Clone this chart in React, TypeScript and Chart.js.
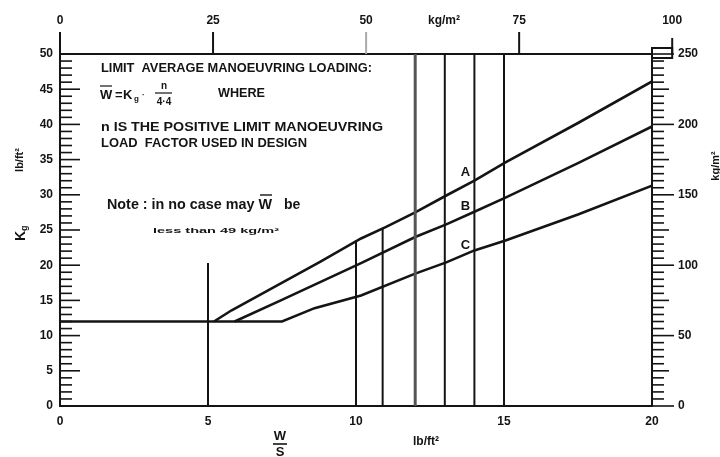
import React, { useEffect, useRef } from "react";
import { Chart, registerables } from "chart.js";

Chart.register(...registerables);

// ---- data (lb/ft² on x, K in lb/ft² on y) ----
const curveAX = [5.2, 5.8, 7.2, 8.8, 10.17, 11, 12, 13.05, 14, 15.05, 17.5, 20];
const curveAY = [12, 13.6, 16.8, 20.5, 23.8, 25.4, 27.5, 29.9, 32, 34.6, 40.2, 46.1];
const curveBX = [5.9, 7.46, 10.17, 12, 13.05, 14, 15.05, 17.5, 20];
const curveBY = [12, 15, 20.3, 24, 25.8, 27.6, 29.6, 34.5, 39.7];
const curveCX = [0, 7.5, 8.6, 10.17, 12, 13.05, 14, 15.05, 17.5, 20];
const curveCY = [12, 12, 13.9, 15.7, 18.8, 20.4, 22.1, 23.5, 27.2, 31.3];
const guideX = [5, 10, 10.9, 12, 13, 14, 15];
const guideTop = [20.3, 23.5, 25.3, 50, 50, 50, 50];
const curveLabels = ["A", "B", "C"];
const curveLabelX = [13.7, 13.7, 13.7];
const curveLabelY = [33.2, 28.4, 22.8];
const bottomTicks = [0, 5, 10, 15, 20];
const topTicks = [0, 25, 50, 75, 100];
const leftTicks = [0, 5, 10, 15, 20, 25, 30, 35, 40, 45, 50];
const rightTicks = [0, 50, 100, 150, 200, 250];

const INK = "#141414";
const FONT = "'Liberation Sans', Arial, sans-serif";

const toPts = (xs: number[], ys: number[]) => xs.map((x, i) => ({ x, y: ys[i] }));

const annotations = {
  id: "annotations",
  afterDraw(chart: any) {
    const ctx: CanvasRenderingContext2D = chart.ctx;
    const { x, xTop, y, yRight } = chart.scales;
    const a = chart.chartArea;
    const line = (x1: number, y1: number, x2: number, y2: number) => {
      ctx.beginPath();
      ctx.moveTo(x1, y1);
      ctx.lineTo(x2, y2);
      ctx.stroke();
    };
    const fit = (text: string, tx: number, ty: number, width: number) => {
      const w = ctx.measureText(text).width;
      ctx.save();
      ctx.translate(tx, ty);
      ctx.scale(width / w, 1);
      ctx.fillText(text, 0, 0);
      ctx.restore();
    };
    ctx.save();
    ctx.strokeStyle = INK;
    ctx.fillStyle = INK;
    ctx.lineWidth = 1.6;
    // left inside ladder ticks, every 1 lb/ft²
    for (let v = 1; v < 50; v++) {
      const py = y.getPixelForValue(v);
      line(a.left, py, a.left + (v % 5 === 0 ? 20 : 12), py);
    }
    // right outside ladder ticks, every 5 kg/m²
    for (let v = 0; v <= 250; v += 5) {
      const py = yRight.getPixelForValue(v);
      const len = v % 50 === 0 ? 22 : v % 25 === 0 ? 17 : 12;
      line(a.right, py, a.right + len, py);
    }
    // top ticks
    ctx.lineWidth = 2;
    topTicks.forEach((v) => {
      const px = xTop.getPixelForValue(v);
      ctx.strokeStyle = v === 50 ? "#aaa" : INK;
      line(px, a.top, px, a.top - (v === 100 ? 16 : 22));
    });
    ctx.strokeStyle = INK;
    // small corner box top-right
    const p100 = xTop.getPixelForValue(100);
    ctx.strokeRect(a.right, a.top - 6, p100 - a.right, 10);

    // curve labels
    ctx.font = `bold 13px ${FONT}`;
    ctx.textAlign = "center";
    ctx.textBaseline = "middle";
    curveLabels.forEach((t, i) => {
      ctx.fillText(t, x.getPixelForValue(curveLabelX[i]), y.getPixelForValue(curveLabelY[i]));
    });

    // text block
    ctx.textAlign = "left";
    ctx.textBaseline = "middle";
    ctx.font = `bold 12px ${FONT}`;
    fit("LIMIT  AVERAGE MANOEUVRING LOADING:", 101, 69, 271);
    fit("n IS THE POSITIVE LIMIT MANOEUVRING", 101, 128, 282);
    fit("LOAD  FACTOR USED IN DESIGN", 101, 144, 206);
    fit("WHERE", 218, 94, 47);
    // formula  W = Kg . n / 4.4
    ctx.font = `bold 13px ${FONT}`;
    ctx.fillText("W", 100, 95);
    ctx.lineWidth = 1.2;
    line(100, 86, 112, 86);
    ctx.fillText("=", 115, 95);
    ctx.fillText("K", 123, 95);
    ctx.font = `bold 8px ${FONT}`;
    ctx.fillText("g", 134, 99);
    ctx.fillText("·", 142, 95);
    ctx.font = `bold 10px ${FONT}`;
    ctx.textAlign = "center";
    ctx.fillText("n", 164, 86);
    line(155, 93, 172, 93);
    ctx.fillText("4·4", 164, 102);
    // note
    ctx.textAlign = "left";
    ctx.font = `bold 14px ${FONT}`;
    fit("Note : in no case may W", 107, 205, 165);
    ctx.lineWidth = 1.4;
    line(260, 195, 272, 195);
    ctx.fillText("be", 284, 205);
    ctx.font = `bold 7px ${FONT}`;
    fit("less than 49 kg/m²", 153, 231, 126);

    // axis titles
    ctx.font = `bold 12px ${FONT}`;
    ctx.textAlign = "center";
    ctx.fillText("kg/m²", 444, 21);
    ctx.fillText("lb/ft²", 426, 442);
    ctx.font = `bold 13px ${FONT}`;
    ctx.fillText("W", 280, 436);
    ctx.fillText("S", 280, 452);
    ctx.lineWidth = 1.6;
    line(273, 444, 287, 444);

    ctx.save();
    ctx.translate(20, 160);
    ctx.rotate(-Math.PI / 2);
    ctx.font = `bold 11px ${FONT}`;
    ctx.fillText("lb/ft²", 0, 0);
    ctx.restore();

    ctx.save();
    ctx.translate(21, 236);
    ctx.rotate(-Math.PI / 2);
    ctx.font = `bold 14px ${FONT}`;
    ctx.textAlign = "left";
    ctx.fillText("K", -5, 0);
    ctx.font = `bold 9px ${FONT}`;
    ctx.fillText("g", 5, 4);
    ctx.restore();

    ctx.save();
    ctx.translate(716, 166);
    ctx.rotate(-Math.PI / 2);
    ctx.font = `bold 11px ${FONT}`;
    ctx.fillText("kg/m²", 0, 0);
    ctx.restore();

    ctx.restore();
  },
};

export default function App() {
  const ref = useRef<HTMLCanvasElement | null>(null);
  useEffect(() => {
    if (!ref.current) return;
    const tickFont = { family: FONT, size: 12, weight: "bold" as const };
    const border = { display: true, color: INK, width: 2 };
    const noGrid = { display: false, drawTicks: false };
    const curve = (pts: any[]) => ({
      data: pts,
      showLine: true,
      borderColor: INK,
      borderWidth: 2.6,
      pointRadius: 0,
      tension: 0,
      fill: false,
    });
    const guides = guideX.map((gx, i) => ({
      data: [
        { x: gx, y: 0 },
        { x: gx, y: guideTop[i] },
      ],
      showLine: true,
      borderColor: gx === 12 ? "#555" : INK,
      borderWidth: gx === 12 ? 3 : 2,
      pointRadius: 0,
      fill: false,
    }));
    const chart = new Chart(ref.current, {
      type: "scatter",
      data: {
        datasets: [
          ...guides,
          curve(toPts(curveAX, curveAY)),
          curve(toPts(curveBX, curveBY)),
          curve(toPts(curveCX, curveCY)),
        ],
      },
      options: {
        animation: false,
        responsive: false,
        events: [],
        layout: { padding: 0 },
        plugins: { legend: { display: false }, tooltip: { enabled: false } },
        scales: {
          x: {
            type: "linear",
            position: "bottom",
            min: 0,
            max: 20,
            afterBuildTicks: (s: any) => {
              s.ticks = bottomTicks.map((v) => ({ value: v }));
            },
            ticks: { font: tickFont, color: INK, padding: 8 },
            grid: noGrid,
            border,
            afterFit: (s: any) => {
              s.height = 51;
            },
          },
          xTop: {
            type: "linear",
            position: "top",
            min: 0,
            max: 96.7,
            afterBuildTicks: (s: any) => {
              s.ticks = topTicks.map((v) => ({ value: v }));
            },
            ticks: { font: tickFont, color: INK, padding: 26, autoSkip: false },
            grid: noGrid,
            border,
            afterFit: (s: any) => {
              s.height = 54;
            },
          },
          y: {
            type: "linear",
            position: "left",
            min: 0,
            max: 50,
            afterBuildTicks: (s: any) => {
              s.ticks = leftTicks.map((v) => ({ value: v }));
            },
            ticks: { font: tickFont, color: INK, padding: 7 },
            grid: noGrid,
            border,
            afterFit: (s: any) => {
              s.width = 60;
            },
          },
          yRight: {
            type: "linear",
            position: "right",
            min: 0,
            max: 250,
            afterBuildTicks: (s: any) => {
              s.ticks = rightTicks.map((v) => ({ value: v }));
            },
            ticks: { font: tickFont, color: INK, padding: 26 },
            grid: noGrid,
            border,
            afterFit: (s: any) => {
              s.width = 68;
            },
          },
        },
      },
      plugins: [annotations],
    } as any);
    return () => chart.destroy();
  }, []);
  return (
    <div style={{ position: "fixed", left: 0, top: 0, width: 720, height: 457, background: "#fff" }}>
      <canvas ref={ref} width={720} height={457} style={{ display: "block", width: 720, height: 457 }} />
    </div>
  );
}
